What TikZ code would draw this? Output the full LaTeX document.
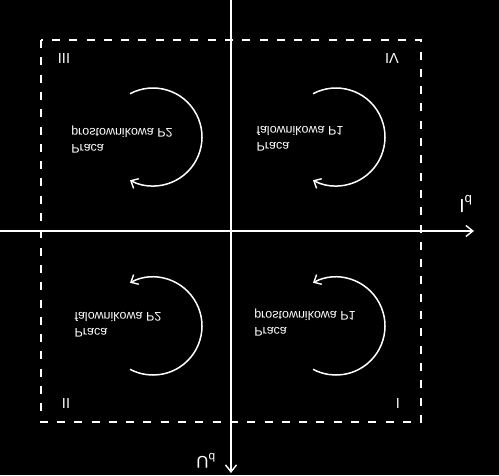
\documentclass[tikz,border=0pt]{standalone}
\usepackage{fontspec}
\setmainfont{Liberation Sans}
\usetikzlibrary{arrows.meta,positioning}

\begin{document}
\begin{tikzpicture}[x=1pt, y=1pt, yscale=-1, every node/.style={transform shape, text=white, font=\fontsize{12.5}{16}\selectfont}]
\tikzset{axisline/.style={draw=white, line width=1.6pt, -{Straight Barb[length=7pt, width=11pt, line width=1.4pt]}},
  frame/.style={draw=white, line width=1.6pt, dash pattern=on 8pt off 9.3pt},
  turn/.style={draw=white, line width=1.5pt},
  barb/.tip={Straight Barb[length=6pt, width=11pt, line width=1.4pt]},
  txt/.style={align=left, inner sep=0pt},
  quad/.style={inner sep=0pt, font=\fontsize{14.5}{16}\selectfont}}
\fill[black] (0,0) rectangle (499,475);
\useasboundingbox (0,0) rectangle (499,475);
% axes
\coordinate (o) at (231,231);
\coordinate (xstart) at (0,231);
\coordinate (xend) at (474,231);
\coordinate (ystart) at (231,0);
\coordinate (yend) at (231,473);
\draw[axisline] (xstart) -- (xend);
\draw[axisline] (ystart) -- (yend);
\node[font=\fontsize{19}{20}\selectfont, inner sep=0pt] (id) at (466,204) {I\textsubscript{d}};
\node[font=\fontsize{17}{18}\selectfont, inner sep=0pt] (ud) at (206,461) {U\textsubscript{d}};
% frame
\draw[frame] (41,40) rectangle (421,422);
\node[quad] (q3) at (64,58) {III};
\node[quad] (q4) at (392,58) {IV};
\node[quad] (q2) at (66,403) {II};
\node[quad] (q1) at (398,403) {I};
% working modes
\coordinate (c2) at (153,137);
\coordinate (c1) at (336,137);
\coordinate (c3) at (153,326);
\coordinate (c4) at (336,326);
\draw[turn, -{barb}] (c2) ++(-118:49) arc[start angle=-118, end angle=118, radius=49];
\draw[turn, -{barb}] (c1) ++(-118:49) arc[start angle=-118, end angle=118, radius=49];
\draw[turn, {barb}-] (c3) ++(-118:49) arc[start angle=-118, end angle=118, radius=49];
\draw[turn, {barb}-] (c4) ++(-118:49) arc[start angle=-118, end angle=118, radius=49];
\node[txt] (t2) at (122,139) {Praca\\prostownikowa P2};
\node[txt] (t1) at (300,139) {Praca\\falownikowa P1};
\node[txt] (t3) at (118,325) {Praca\\falownikowa P2};
\node[txt] (t4) at (305,322) {Praca\\prostownikowa P1};
\end{tikzpicture}
\end{document}
